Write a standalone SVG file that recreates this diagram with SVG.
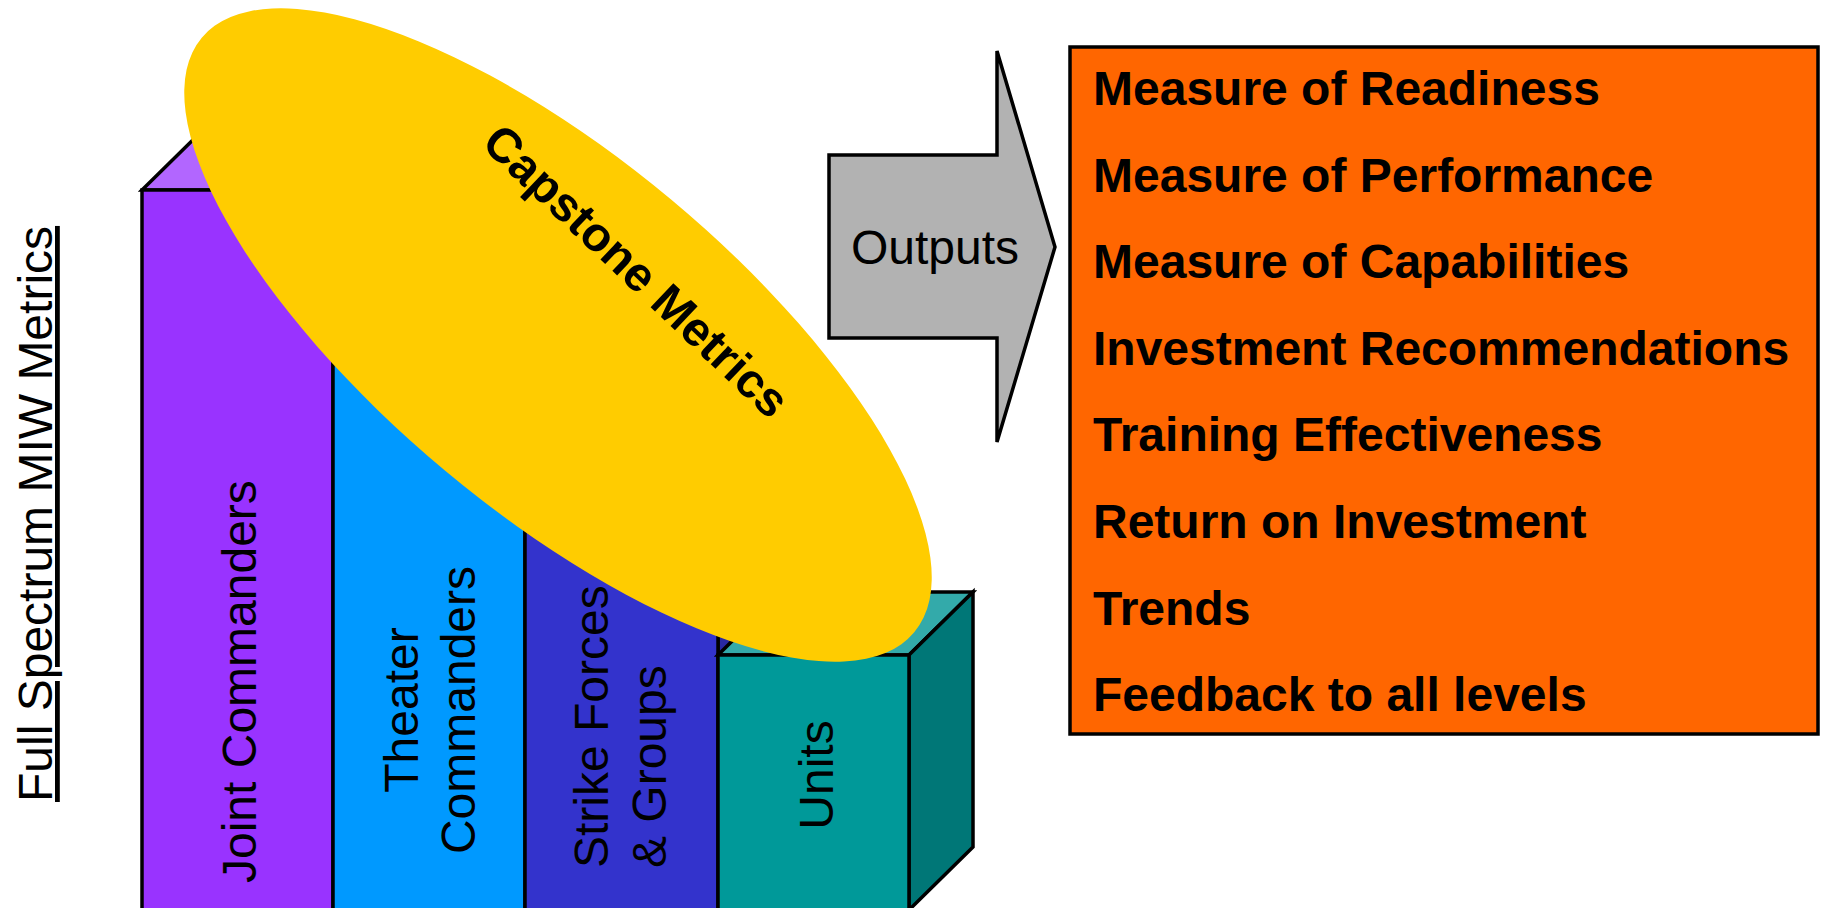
<svg xmlns="http://www.w3.org/2000/svg" width="1821" height="908" viewBox="0 0 1821 908">
<style>
.edge{stroke:#000;stroke-width:3.5;stroke-linejoin:miter}
.lbl{font-family:"Liberation Sans",Arial,sans-serif;font-size:48px;fill:#000}
.item{font-family:"Liberation Sans",Arial,sans-serif;font-size:48px;font-weight:bold;fill:#000}
</style>
<rect width="1821" height="908" fill="#fff"/>
<g id="axis-label">
<text class="lbl" transform="translate(52,802) rotate(-90)" text-decoration="underline">Full Spectrum MIW Metrics</text>
</g>
<g id="col-joint">
<polygon class="edge" fill="#B266FF" points="142,190 333,190 397,127 206,127"/>
<polygon class="edge" fill="#7A29CC" points="333,190 397,127 397,847 333,910"/>
<rect class="edge" fill="#9933FF" x="142" y="190" width="191" height="722"/>
<text class="lbl" transform="translate(256,883) rotate(-90)">Joint Commanders</text>
</g>
<g id="col-theater">
<polygon class="edge" fill="#33ADFF" points="333,345 525,345 589,282 397,282"/>
<polygon class="edge" fill="#007ACC" points="525,345 589,282 589,847 525,910"/>
<rect class="edge" fill="#0099FF" x="333" y="345" width="192" height="567"/>
<text class="lbl" text-anchor="middle" transform="translate(418,710) rotate(-90)">Theater</text>
<text class="lbl" text-anchor="middle" transform="translate(475,710) rotate(-90)">Commanders</text>
</g>
<g id="col-strike">
<polygon class="edge" fill="#5C5CD6" points="525,500 718,500 782,437 589,437"/>
<polygon class="edge" fill="#2929A3" points="718,500 782,437 782,847 718,910"/>
<rect class="edge" fill="#3333CC" x="525" y="500" width="193" height="412"/>
<text class="lbl" transform="translate(608,868) rotate(-90)">Strike Forces</text>
<text class="lbl" transform="translate(666,868) rotate(-90)">&amp; Groups</text>
</g>
<g id="col-units">
<polygon class="edge" fill="#33AAAA" points="718,655 909,655 973,592 782,592"/>
<polygon class="edge" fill="#007777" points="909,655 973,592 973,847 909,910"/>
<rect class="edge" fill="#009999" x="718" y="655" width="191" height="257"/>
<text class="lbl" text-anchor="middle" transform="translate(833,775) rotate(-90)">Units</text>
</g>
<g id="capstone">
<ellipse cx="558" cy="335" rx="464" ry="176.5" fill="#FFCC00" transform="rotate(39.85 558 335)"/>
<text class="item" font-size="46" text-anchor="middle" transform="translate(625,283) rotate(43.5)">Capstone Metrics</text>
</g>
<g id="connectors">
<path class="edge" fill="#B2B2B2" d="M829,155 L997,155 L997,51 L1055,247 L997,442 L997,338 L829,338 Z"/>
<text class="lbl" font-size="47" x="851" y="264">Outputs</text>
</g>
<g id="outputs-list">
<rect class="edge" fill="#FF6600" x="1070" y="47" width="748" height="687"/>
<text class="item" x="1093" y="105">Measure of Readiness</text>
<text class="item" x="1093" y="191.6">Measure of Performance</text>
<text class="item" x="1093" y="278.2">Measure of Capabilities</text>
<text class="item" x="1093" y="364.8">Investment Recommendations</text>
<text class="item" x="1093" y="451.4">Training Effectiveness</text>
<text class="item" x="1093" y="538">Return on Investment</text>
<text class="item" x="1093" y="624.6">Trends</text>
<text class="item" x="1093" y="711.2">Feedback to all levels</text>
</g>
</svg>
